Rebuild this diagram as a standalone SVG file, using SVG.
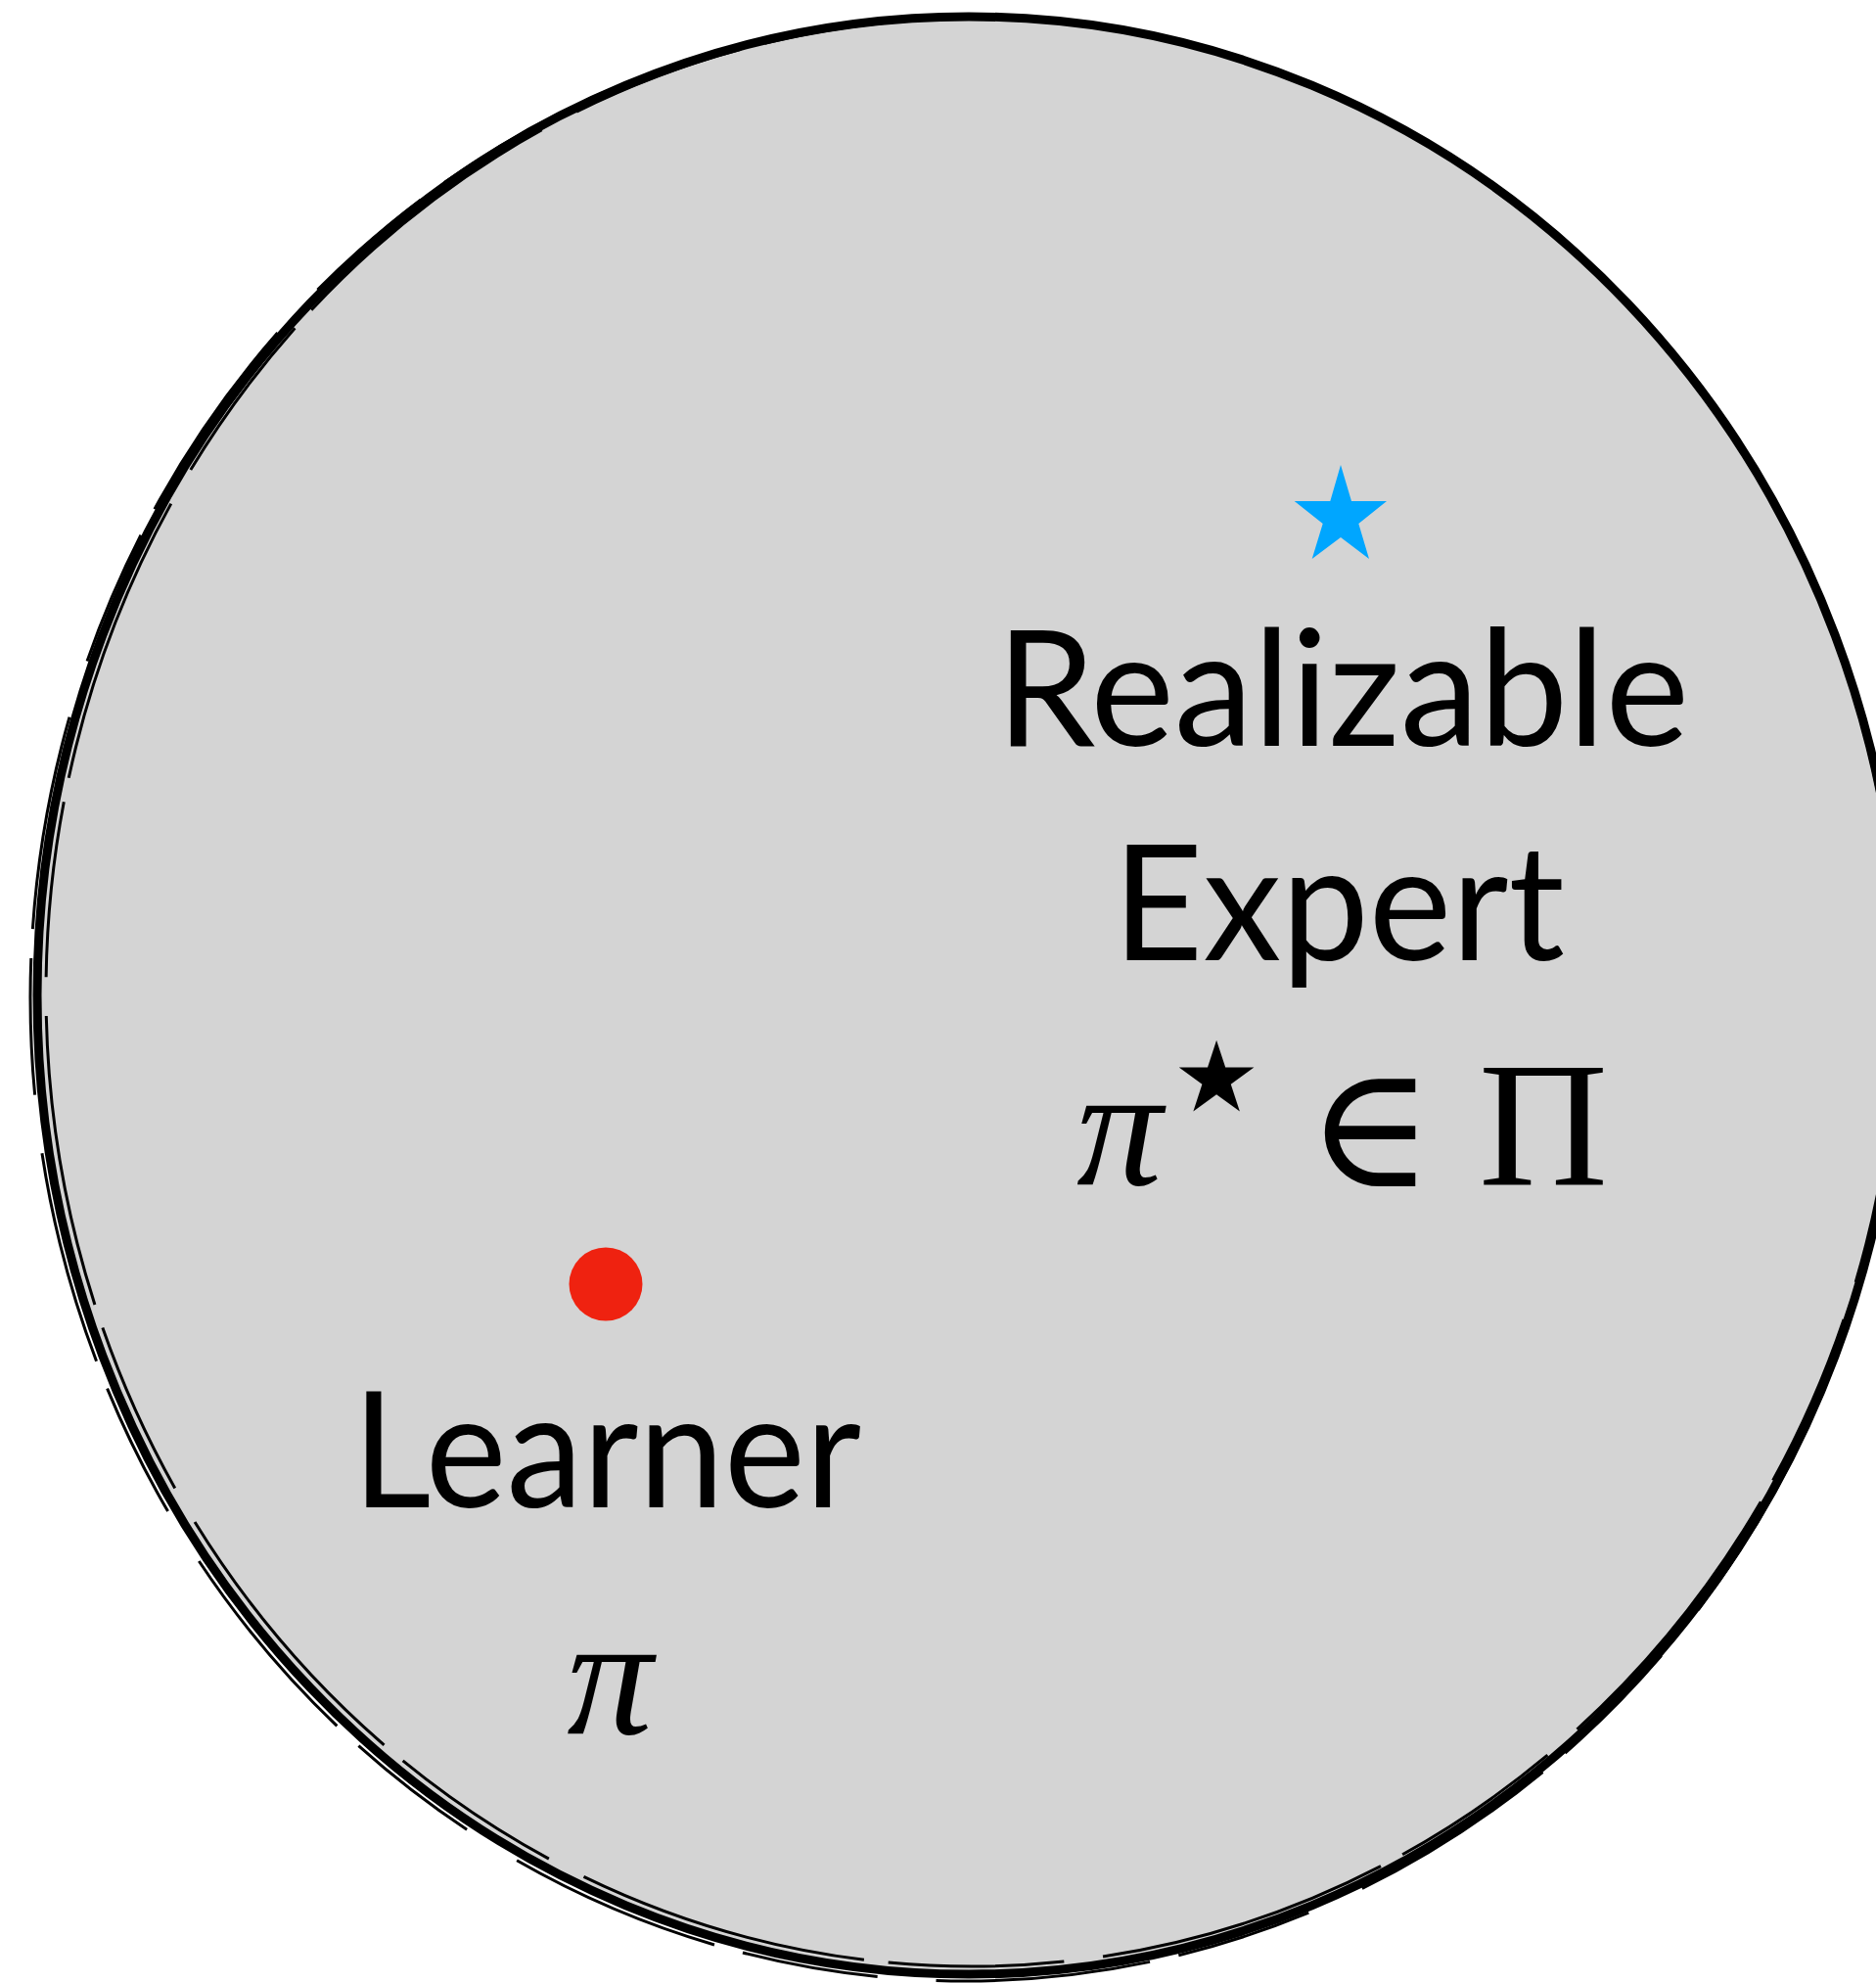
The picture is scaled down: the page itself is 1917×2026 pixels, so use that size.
<svg xmlns="http://www.w3.org/2000/svg" width="1917" height="2026" viewBox="0 0 1917 2026">
<style>
.lbl{font-family:Lato,"Liberation Sans",sans-serif;font-size:164px;fill:#000}
.mi{font-family:"Liberation Serif","DejaVu Serif",serif;font-style:italic;fill:#000}
.mr{font-family:"Liberation Serif","DejaVu Serif",serif;fill:#000}
.sk{fill:none;stroke:#000}
</style>
<rect width="1917" height="2026" fill="#fff"/>
<g id="policy-space">
<ellipse cx="990" cy="1017" rx="952" ry="1000" fill="#d4d4d4" stroke="#000" stroke-width="9"/>
<ellipse class="sk" cx="993" cy="1014" rx="946" ry="995" stroke-width="3" stroke-dasharray="300 40 180 25"/>
<ellipse class="sk" cx="987" cy="1020" rx="956" ry="1004" stroke-width="3" stroke-dasharray="220 60 140 30"/>
</g>
<g id="expert">
<polygon fill="#00a6ff" points="1370,475 1381,512 1417,512 1388.3,535 1399,571 1370,549 1340.7,571 1351.7,535 1322.7,512 1359.3,512"/>
<text class="lbl" x="1372" y="762" text-anchor="middle" textLength="708" lengthAdjust="spacingAndGlyphs">Realizable</text>
<text class="lbl" x="1368" y="981" text-anchor="middle" textLength="462" lengthAdjust="spacingAndGlyphs">Expert</text>
<text class="mi" x="1100" y="1210" font-size="175">π</text>
<text font-family="DejaVu Sans, sans-serif" x="1243" y="1135" font-size="100" text-anchor="middle">★</text>
<text class="mr" x="1400" y="1212" font-size="175" text-anchor="middle">∈</text>
<text class="mr" x="1577" y="1210" font-size="183" text-anchor="middle">Π</text>
</g>
<g id="learner">
<circle cx="619" cy="1312" r="37.5" fill="#ef2210"/>
<text class="lbl" x="620" y="1540" text-anchor="middle" textLength="520" lengthAdjust="spacingAndGlyphs">Learner</text>
<text class="mi" x="623" y="1771" font-size="175" text-anchor="middle">π</text>
</g>
<g id="connectors"></g>
</svg>
